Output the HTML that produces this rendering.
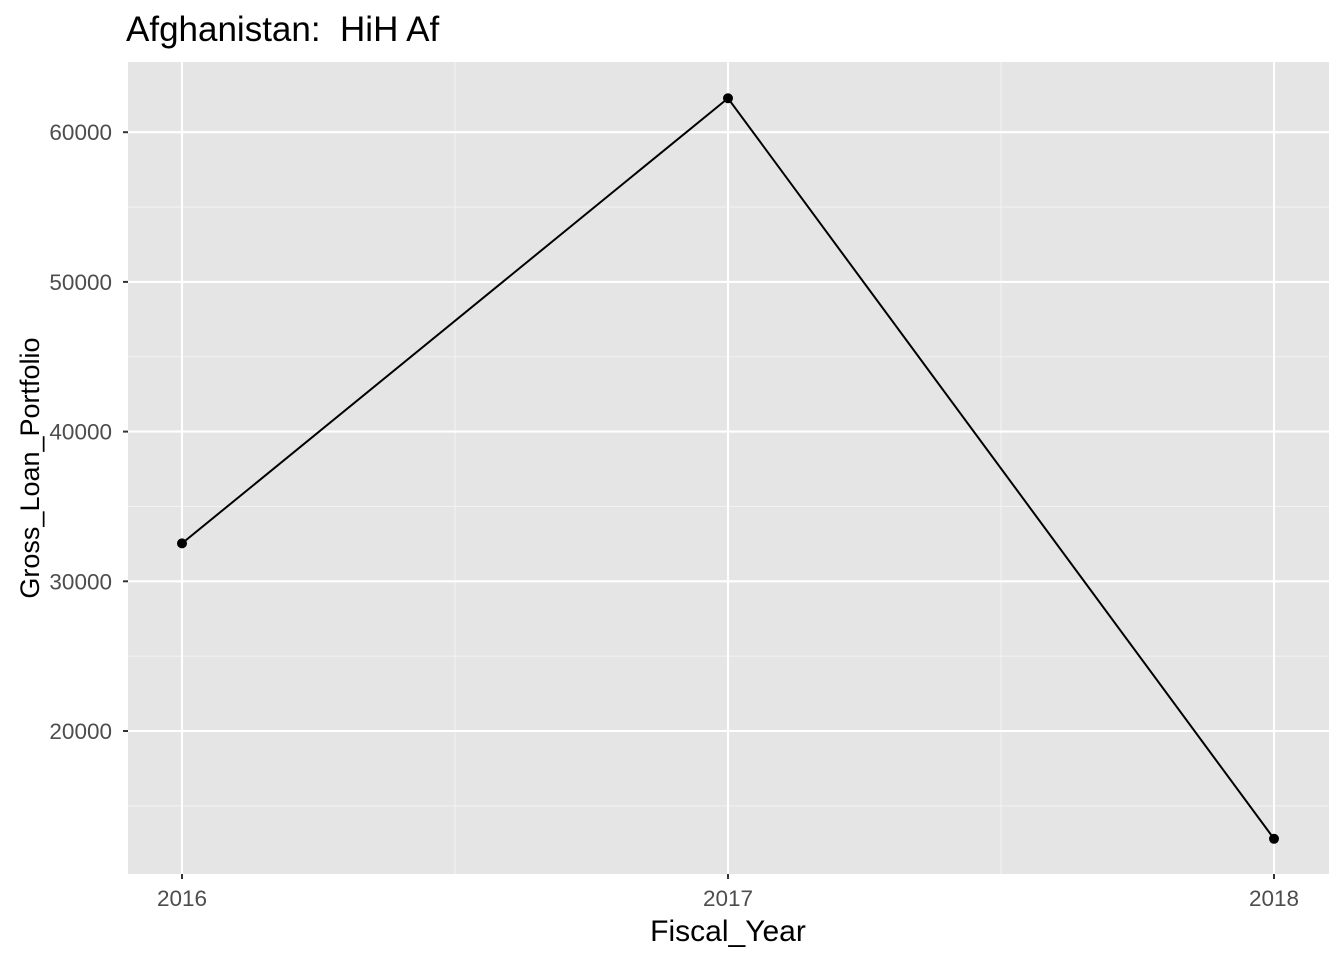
<!DOCTYPE html>
<html><head><meta charset="utf-8"><style>
body{margin:0;background:#fff;}
svg text{font-family:"Liberation Sans",Arial,sans-serif;white-space:pre;}
</style></head><body>
<svg id="chart" width="1344" height="960" xmlns="http://www.w3.org/2000/svg">
<text x="126" y="41" font-size="35" fill="#000" xml:space="preserve">Afghanistan:  HiH Af</text>
<rect x="128" y="62" width="1201" height="812" fill="#e5e5e5"/>
<g id="grid"></g>
<g id="axes"></g>
<g id="marks"></g>
<text x="728" y="941" font-size="30" text-anchor="middle" fill="#000">Fiscal_Year</text>
<text transform="translate(39,468) rotate(-90)" font-size="27" text-anchor="middle" fill="#000">Gross_Loan_Portfolio</text>
</svg>
<script>
const years = [2016, 2017, 2018];
const values = [32533, 62267, 12800];
const yTicks = [20000, 30000, 40000, 50000, 60000];
const xTickLabels = ["2016", "2017", "2018"];

const NS = "http://www.w3.org/2000/svg";
function xs(v){ return 182 + (v - 2016) * 546; }
function ys(v){ return 731 - (v - 20000) * 0.01497; }
function mk(tag, attrs, parent){
  const e = document.createElementNS(NS, tag);
  for (const k in attrs) e.setAttribute(k, attrs[k]);
  parent.appendChild(e);
  return e;
}
const grid = document.getElementById('grid');
const axes = document.getElementById('axes');
const marks = document.getElementById('marks');
for (let i = 0; i < yTicks.length - 1; i++) {
  const y = ys((yTicks[i] + yTicks[i+1]) / 2);
  const l = mk('line', {x1:128, x2:1329, y1:y, y2:y, stroke:'#f2f2f2', 'stroke-width':1.1}, grid);
  
  
}
{
  const y = ys(yTicks[0] - 5000);
  const l = mk('line', {x1:128, x2:1329, y1:y, y2:y, stroke:'#f2f2f2', 'stroke-width':1.1}, grid);
  
  
}
for (let i = 0; i < years.length - 1; i++) {
  const x = xs((years[i] + years[i+1]) / 2);
  const l = mk('line', {x1:x, x2:x, y1:62, y2:874, stroke:'#f2f2f2', 'stroke-width':1.1}, grid);
  
  
}
yTicks.forEach(t => {
  const y = ys(t);
  const l = mk('line', {x1:128, x2:1329, y1:y, y2:y, stroke:'#fff', 'stroke-width':2.1}, grid);
  
  
  const tk = mk('line', {x1:123, x2:128, y1:y, y2:y, stroke:'#333', 'stroke-width':2}, axes);
  
  
  const tx = mk('text', {x:112, y:y + 8, 'font-size':22.5, 'text-anchor':'end', fill:'#4d4d4d'}, axes);
  tx.textContent = t;
  
  
});
years.forEach((yr, i) => {
  const x = xs(yr);
  const l = mk('line', {x1:x, x2:x, y1:62, y2:874, stroke:'#fff', 'stroke-width':2.1}, grid);
  
  
  const tk = mk('line', {x1:x, x2:x, y1:874, y2:879, stroke:'#333', 'stroke-width':2}, axes);
  
  
  const tx = mk('text', {x:x, y:906, 'font-size':22.5, 'text-anchor':'middle', fill:'#4d4d4d'}, axes);
  tx.textContent = xTickLabels[i];
  
  
});
const pts = years.map((yr, i) => xs(yr) + ',' + ys(values[i])).join(' ');
const line = mk('polyline', {points:pts, fill:'none', stroke:'#000', 'stroke-width':2}, marks);


years.forEach((yr, i) => {
  const c = mk('circle', {cx:xs(yr), cy:ys(values[i]), r:5, fill:'#000'}, marks);
  
  
});
</script>
</body></html>
